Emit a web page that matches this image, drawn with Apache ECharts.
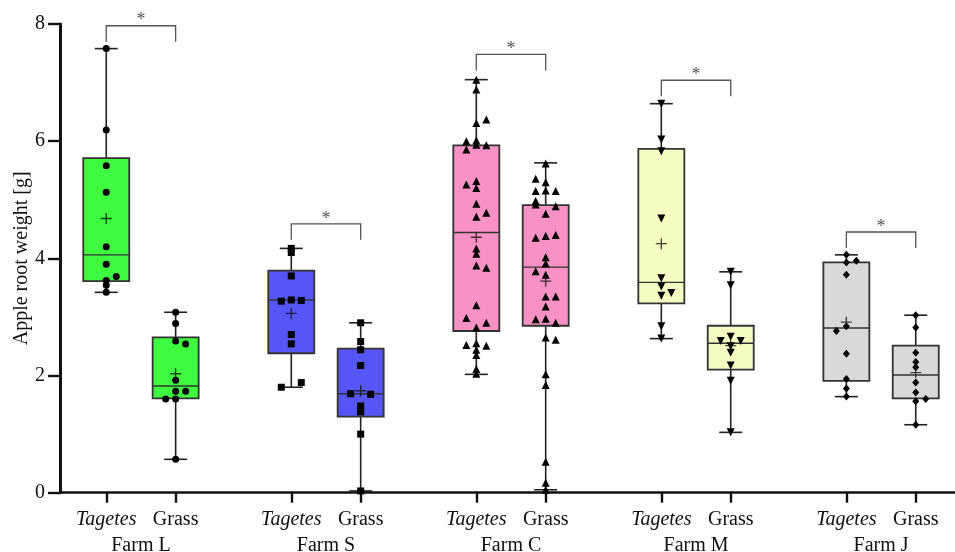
<!DOCTYPE html>
<html><head><meta charset="utf-8">
<script src="https://cdn.jsdelivr.net/npm/echarts@6/dist/echarts.min.js"></script>
<style>html,body{margin:0;padding:0;background:#fff}#c{width:955px;height:552px}</style>
</head><body><div id="c"></div>
<script>
// ---------------- DATA ----------------
const farms = ['Farm L', 'Farm S', 'Farm C', 'Farm M', 'Farm J'];
const treatments = ['Tagetes', 'Grass'];
const yTicks = [0, 2, 4, 6, 8];
const yAxisTitle = 'Apple root weight [g]';

// box statistics per group: [min, Q1, median, Q3, max]
const boxLT = [3.42, 3.61, 4.06, 5.71, 7.58];
const boxLG = [0.57, 1.61, 1.82, 2.65, 3.08];
const boxST = [1.80, 2.38, 3.29, 3.79, 4.17];
const boxSG = [0.03, 1.30, 1.69, 2.46, 2.90];
const boxCT = [2.02, 2.76, 4.44, 5.93, 7.05];
const boxCG = [0.05, 2.85, 3.85, 4.91, 5.63];
const boxMT = [2.63, 3.23, 3.59, 5.87, 6.64];
const boxMG = [1.03, 2.10, 2.55, 2.85, 3.77];
const boxJT = [1.64, 1.91, 2.81, 3.93, 4.06];
const boxJG = [1.16, 1.61, 2.01, 2.51, 3.03];

// group means (+)
const means = [4.68, 2.03, 3.06, 1.74, 4.36, 3.61, 4.25, 2.51, 2.91, 2.05];

// individual points and their jitter side (-1 left, 0 centre, 1 right)
const valLT = [7.58, 6.19, 5.58, 5.13, 4.20, 3.90, 3.69, 3.62, 3.54, 3.42];
const jitLT = [0, 0, 0, 0, 0, 0, 1, 0, 0, 0];
const valLG = [3.08, 2.89, 2.59, 2.54, 1.92, 1.73, 1.73, 1.60, 1.60, 0.57];
const jitLG = [0, 0, 0, 1, 0, 0, 1, -1, 0, 0];
const valST = [4.17, 4.10, 3.70, 3.29, 3.27, 3.28, 2.70, 2.54, 1.80, 1.88];
const jitST = [0, 0, 0, 0, -1, 1, 0, 0, -1, 1];
const valSG = [2.90, 2.58, 2.44, 2.17, 1.69, 1.68, 1.48, 1.38, 1.00, 0.03];
const jitSG = [0, 0, 0, 0, -1, 1, 0, 0, 0, 0];
const valCT = [7.05, 6.88, 6.37, 6.31, 6.01, 6.00, 5.94, 5.93, 5.86, 5.32, 5.26, 5.20, 4.93, 4.78, 4.71,
               4.17, 4.08, 3.88, 3.84, 3.20, 2.98, 2.90, 2.82, 2.52, 2.55, 2.51, 2.44, 2.35, 2.11, 2.03];
const jitCT = [0, 0, 1, 0, 0, -1, 0, 1, -1, 0, -1, 0, 0, 1, 0,
               0, 0, 0, 1, 0, -1, 1, 0, -1, 0, 1, 0, 0, 0, 0];
const valCG = [5.62, 5.36, 5.30, 5.15, 5.16, 5.15, 4.98, 4.92, 4.89, 4.76, 4.35, 4.38, 4.40, 4.02, 3.91,
               3.78, 3.72, 3.35, 3.35, 3.18, 2.96, 2.97, 2.90, 2.65, 2.61, 2.02, 1.84, 0.53, 0.17, 0.05];
const jitCG = [0, -1, 0, -1, 0, 1, -1, -1, 1, 0, -1, 0, 1, 0, 0,
               -1, 0, 0, 1, 0, -1, 0, 1, 0, 1, 0, 0, 0, 0, 0];
const valMT = [6.64, 6.03, 5.83, 4.68, 3.66, 3.52, 3.41, 3.36, 2.84, 2.63];
const jitMT = [0, 0, 0, 0, 0, 0, 1, 0, 0, 0];
const valMG = [3.77, 3.54, 2.66, 2.59, 2.59, 2.50, 2.39, 2.17, 1.91, 1.03];
const jitMG = [0, 0, 0, -1, 1, 0, 0, 0, 0, 0];
const valJT = [4.06, 3.96, 3.93, 3.72, 2.84, 2.76, 2.37, 1.94, 1.78, 1.64];
const jitJT = [0, 1, 0, 0, 0, -1, 0, 0, 0, 0];
const valJG = [3.03, 2.82, 2.39, 2.23, 2.14, 1.88, 1.71, 1.60, 1.56, 1.16];
const jitJG = [0, 0, 0, 0, 0, 0, 0, 1, 0, 0];

// significance brackets (height of bracket per farm) and label
const sigTop = [7.97, 4.59, 7.48, 7.04, 4.45];
const sigLabel = ['*', '*', '*', '*', '*'];

// ---------------- STYLE / LAYOUT ----------------
const boxes = [boxLT, boxLG, boxST, boxSG, boxCT, boxCG, boxMT, boxMG, boxJT, boxJG];
const vals = [valLT, valLG, valST, valSG, valCT, valCG, valMT, valMG, valJT, valJG];
const jits = [jitLT, jitLG, jitST, jitSG, jitCT, jitCG, jitMT, jitMG, jitJT, jitJG];
const farmColors = ['#3ffb3f', '#5656f7', '#f892c5', '#f4fcc2', '#d9d9d9'];
const farmSymbols = ['circle', 'rect', 'triangle', 'triangle', 'diamond'];
const farmSymbolRotate = [0, 0, 0, 180, 0];
const farmSymbolSize = [7, 7, 8, 8, [7, 8]];
const FONT = '"Liberation Serif", "Times New Roman", serif';
const FS = 20;
const SLOTS = 16, TAG_OFF = 4, GRASS_OFF = 10, MID_OFF = 7;
const N_SLOTS = SLOTS * farms.length - 1;
const JIT_PX = 10, BOX_HALF = 23, CAP_HALF = 11.5, DROP_PX = 16;
const LINE = '#222';

const slotOf = (f, t) => f * SLOTS + (t === 0 ? TAG_OFF : GRASS_OFF);
const treatLabels = [], farmLabels = [];
for (let i = 0; i < N_SLOTS; i++) { treatLabels.push(''); farmLabels.push(''); }
farms.forEach((fm, f) => {
  treatLabels[slotOf(f, 0)] = '{it|' + treatments[0] + '}';
  treatLabels[slotOf(f, 1)] = '{nm|' + treatments[1] + '}';
  farmLabels[f * SLOTS + MID_OFF] = fm;
});
const categories = treatLabels.map((_, i) => 's' + i);

// box data
const boxData = boxes.map((b, g) => {
  const f = Math.floor(g / 2), t = g % 2;
  return [slotOf(f, t), b[0], b[1], b[2], b[3], b[4], f];
});
const meanData = means.map((m, g) => [slotOf(Math.floor(g / 2), g % 2), m]);
const bracketData = sigTop.map((y, f) => [slotOf(f, 0), slotOf(f, 1), y, f]);

const series = [];
series.push({
  type: 'custom', z: 2, encode: { x: 0, y: [1, 2, 3, 4, 5] }, data: boxData,
  renderItem: function (params, api) {
    const x = api.value(0);
    const pMin = api.coord([x, api.value(1)]);
    const pQ1 = api.coord([x, api.value(2)]);
    const pMed = api.coord([x, api.value(3)]);
    const pQ3 = api.coord([x, api.value(4)]);
    const pMax = api.coord([x, api.value(5)]);
    const cx = pMin[0];
    const col = farmColors[api.value(6)];
    const ls = { stroke: LINE, lineWidth: 1.6 };
    return { type: 'group', children: [
      { type: 'line', shape: { x1: cx, y1: pQ3[1], x2: cx, y2: pMax[1] }, style: ls },
      { type: 'line', shape: { x1: cx, y1: pQ1[1], x2: cx, y2: pMin[1] }, style: ls },
      { type: 'line', shape: { x1: cx - CAP_HALF, y1: pMax[1], x2: cx + CAP_HALF, y2: pMax[1] }, style: ls },
      { type: 'line', shape: { x1: cx - CAP_HALF, y1: pMin[1], x2: cx + CAP_HALF, y2: pMin[1] }, style: ls },
      { type: 'rect', shape: { x: cx - BOX_HALF, y: pQ3[1], width: 2 * BOX_HALF, height: pQ1[1] - pQ3[1] },
        style: { fill: col, stroke: '#333', lineWidth: 1.8 } },
      { type: 'line', shape: { x1: cx - BOX_HALF, y1: pMed[1], x2: cx + BOX_HALF, y2: pMed[1] },
        style: { stroke: '#333', lineWidth: 1.4 } }
    ] };
  }
});

vals.forEach((arr, g) => {
  const f = Math.floor(g / 2), t = g % 2;
  const x = slotOf(f, t);
  series.push({
    type: 'scatter', z: 3,
    symbol: farmSymbols[f], symbolRotate: farmSymbolRotate[f], symbolSize: farmSymbolSize[f],
    itemStyle: { color: '#000', opacity: 1 },
    data: arr.map((v, i) => ({ value: [x, v], symbolOffset: [jits[g][i] * JIT_PX, 0] }))
  });
});

series.push({
  type: 'scatter', z: 4,
  symbol: 'path://M4.4,0H5.6V4.4H10V5.6H5.6V10H4.4V5.6H0V4.4H4.4Z', symbolSize: 11,
  itemStyle: { color: '#111' },
  data: meanData
});

series.push({
  type: 'custom', z: 5, encode: { x: [0, 1], y: 2 }, data: bracketData,
  renderItem: function (params, api) {
    const y = api.value(2);
    const a = api.coord([api.value(0), y]);
    const b = api.coord([api.value(1), y]);
    return { type: 'group', children: [
      { type: 'polyline', shape: { points: [[a[0], a[1] + DROP_PX], a, b, [b[0], b[1] + DROP_PX]] },
        style: { stroke: '#555', lineWidth: 1.3, fill: 'none' } },
      { type: 'text', x: (a[0] + b[0]) / 2, y: a[1] - 5,
        style: { text: sigLabel[api.value(3)], fill: '#555', font: '18px ' + FONT, align: 'center', verticalAlign: 'middle' } }
    ] };
  }
});

const chart = echarts.init(document.getElementById('c'), null, { renderer: 'canvas' });
chart.setOption({
  backgroundColor: '#fff',
  animation: false,
  grid: { left: 60, top: 24, bottom: 59.3, right: -7, outerBoundsMode: 'none', containLabel: false },
  xAxis: [{
    type: 'category', data: categories, boundaryGap: false, position: 'bottom',
    axisLine: { show: true, lineStyle: { color: '#111', width: 2.6 } },
    axisTick: { show: true, length: 10, lineStyle: { color: '#111', width: 2.4 },
      interval: (i) => treatLabels[i] !== '' },
    axisLabel: {
      show: true, margin: 17, interval: (i) => treatLabels[i] !== '',
      showMinLabel: true, showMaxLabel: true,
      formatter: (v, i) => treatLabels[i],
      color: '#111', fontFamily: FONT, fontSize: FS, verticalAlign: 'top',
      rich: {
        it: { fontStyle: 'italic', fontFamily: FONT, fontSize: FS, color: '#111' },
        nm: { fontFamily: FONT, fontSize: FS, color: '#111' }
      }
    },
    splitLine: { show: false }
  }, {
    type: 'category', data: categories, boundaryGap: false, position: 'bottom',
    axisLine: { show: false }, axisTick: { show: false },
    axisLabel: {
      show: true, margin: 43, interval: (i) => farmLabels[i] !== '',
      showMinLabel: true, showMaxLabel: true,
      formatter: (v, i) => farmLabels[i],
      color: '#111', fontFamily: FONT, fontSize: FS, verticalAlign: 'top'
    },
    splitLine: { show: false }
  }],
  yAxis: {
    type: 'value', min: yTicks[0], max: yTicks[yTicks.length - 1], interval: yTicks[1] - yTicks[0],
    name: yAxisTitle, nameLocation: 'middle', nameGap: 28, nameMoveOverlap: false,
    nameTextStyle: { fontFamily: FONT, fontSize: FS, color: '#111' },
    axisLine: { show: true, lineStyle: { color: '#111', width: 3 } },
    axisTick: { show: true, length: 12, lineStyle: { color: '#111', width: 2.4 } },
    axisLabel: { margin: 15, color: '#111', fontFamily: FONT, fontSize: FS },
    splitLine: { show: false }
  },
  series: series
});
</script></body></html>
